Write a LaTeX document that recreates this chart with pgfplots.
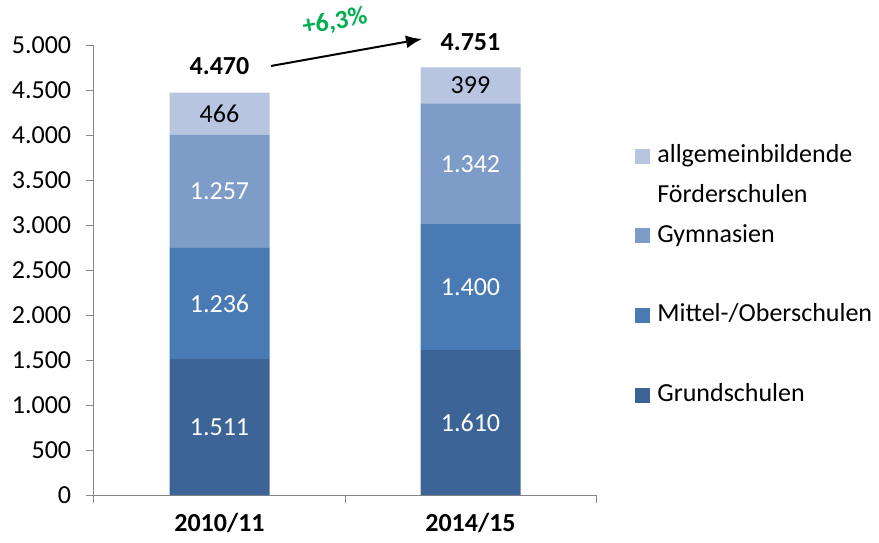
\documentclass[border=0pt]{standalone}
\usepackage{pgfplots}
\pgfplotsset{compat=1.18}
\usetikzlibrary{arrows.meta}
\usepackage{fontspec}
\setmainfont{Carlito}
\definecolor{cGr}{RGB}{61,100,150}
\definecolor{cMi}{RGB}{74,122,180}
\definecolor{cGy}{RGB}{126,156,200}
\definecolor{cFo}{RGB}{183,197,224}
\definecolor{axgray}{RGB}{134,134,134}
\definecolor{pctgreen}{RGB}{0,176,80}
\begin{document}
\fontsize{26}{31}\selectfont
\begin{tikzpicture}
\path[use as bounding box] (0pt,0pt) rectangle (879pt,542pt);
\begin{axis}[
  at={(94pt,47pt)}, anchor=south west,
  scale only axis, width=502pt, height=450pt,
  ybar stacked, bar width=100pt,
  xmin=-0.5, xmax=1.5, ymin=0, ymax=5000,
  clip=false,
  axis x line*=bottom, axis y line*=left,
  axis line style={draw=axgray, line width=1pt},
  tick style={draw=axgray, line width=1pt},
  tick align=outside, major tick length=8pt,
  ytick={0,500,...,5000},
  /pgf/number format/1000 sep={.},
  /pgf/number format/assume math mode=true,
  xtick={-0.5,0.5,1.5}, xticklabels={},
  extra x ticks={0,1},
  extra x tick labels={\textbf{2010/11},\textbf{2014/15}},
  extra x tick style={major tick length=0pt, xticklabel style={yshift=-9pt}},
  yticklabel style={xshift=-6pt},
]
\addplot[fill=cGr, draw=none] coordinates {(0,1511) (1,1610)};
\addplot[fill=cMi, draw=none] coordinates {(0,1236) (1,1400)};
\addplot[fill=cGy, draw=none] coordinates {(0,1257) (1,1342)};
\addplot[fill=cFo, draw=none] coordinates {(0,466) (1,399)};
\end{axis}
\begin{axis}[
  at={(94pt,47pt)}, anchor=south west,
  scale only axis, width=502pt, height=450pt,
  xmin=-0.5, xmax=1.5, ymin=0, ymax=5000,
  hide axis, clip=false,
  legend style={at={(axis description cs:1.072,0.790)}, anchor=north west,
    draw=none, fill=none, row sep=10.8pt,
    nodes={inner sep=2pt, text height=19pt, text depth=6pt},
    /tikz/every odd column/.append style={column sep=5pt}},
  legend cell align=left,
  legend image code/.code={\fill[#1, draw=none] (0pt,-7.5pt) rectangle (15pt,7.5pt);},
]
\addplot[forget plot, draw=none, mark=none, nodes near coords, point meta=explicit symbolic,
  nodes near coords style={white, anchor=center}]
  coordinates {(0,755.5)[1.511] (1,805)[1.610] (0,2129)[1.236] (1,2310)[1.400] (0,3375.5)[1.257] (1,3681)[1.342]};
\addplot[forget plot, draw=none, mark=none, nodes near coords, point meta=explicit symbolic,
  nodes near coords style={black, anchor=center}]
  coordinates {(0,4237)[466] (1,4551.5)[399]};
\addplot[forget plot, draw=none, mark=none, nodes near coords, point meta=explicit symbolic,
  nodes near coords style={black, anchor=center, font=\bfseries}]
  coordinates {(0,4767)[4.470] (1,5033)[4.751]};
\draw[line width=2pt, -{Latex[length=16pt,width=13pt]}] (axis cs:0.2052,4767) -- (axis cs:0.8068,5067);
\node[pctgreen, font=\bfseries, rotate=10] at (axis cs:0.46,5255) {+6,3\%};
\addlegendimage{fill=cFo, draw=none}\addlegendentry{allgemeinbildende}
\addlegendimage{empty legend}\addlegendentry{Förderschulen}
\addlegendimage{fill=cGy, draw=none}\addlegendentry{Gymnasien}
\addlegendimage{empty legend}\addlegendentry{}
\addlegendimage{fill=cMi, draw=none}\addlegendentry{Mittel-/Oberschulen}
\addlegendimage{empty legend}\addlegendentry{}
\addlegendimage{fill=cGr, draw=none}\addlegendentry{Grundschulen}
\end{axis}
\end{tikzpicture}
\end{document}
